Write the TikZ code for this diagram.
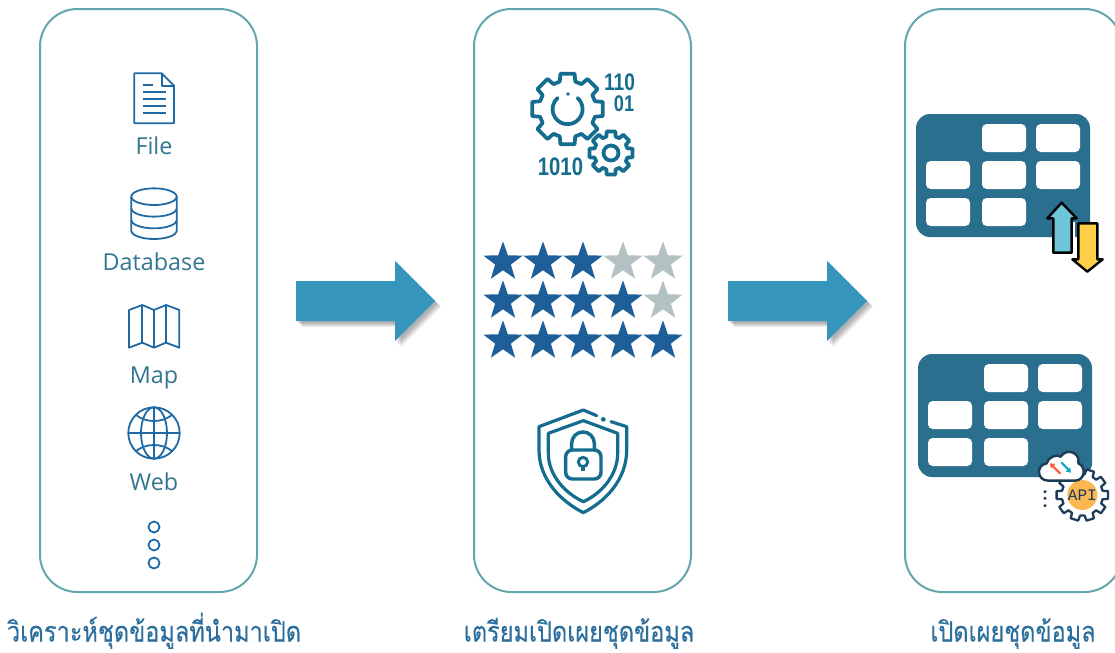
\documentclass[tikz,border=0pt]{standalone}
\usepackage{fontspec}
\setmainfont{Open Sans}
\newfontfamily\thaifont[Script=Thai,FakeStretch=0.84,FakeBold=0.25]{Loma}
\newfontfamily\binfont[FakeStretch=0.8]{Liberation Sans}
\newfontfamily\apifont{Liberation Mono}
\usetikzlibrary{shapes.geometric}
\definecolor{panelc}{HTML}{63A6AC}
\definecolor{iconc}{HTML}{2169A3}
\definecolor{labelc}{HTML}{33768F}
\definecolor{gearc}{HTML}{146C8E}
\definecolor{titlec}{HTML}{2C6E9C}
\definecolor{arrowc}{HTML}{3595BB}
\definecolor{tablec}{HTML}{2A6F8E}
\definecolor{stard}{HTML}{1F5F99}
\definecolor{starl}{HTML}{B3C1C3}
\definecolor{upc}{HTML}{6FC6DA}
\definecolor{downc}{HTML}{FFCF48}
\definecolor{apic}{HTML}{FBB850}
\definecolor{navyc}{HTML}{1C3C5A}
\tikzset{
  panel/.style={draw=panelc,line width=1.5pt,fill=white},
  icon/.style={draw=iconc,line width=1.35pt,line join=round},
  gearline/.style={draw=gearc,line width=2.8pt,line join=round,fill=white},
  lbl/.style={text=labelc,font=\fontsize{17.5}{20}\selectfont,inner sep=0pt,anchor=base},
  ttl/.style={text=titlec,font=\thaifont\fontsize{21}{24}\selectfont,inner sep=0pt,anchor=base},
  bin/.style={text=gearc,font=\binfont\bfseries,inner sep=0pt},
  starshape/.style={star,star points=5,star point ratio=2.5,minimum size=31pt,inner sep=0pt,draw=none},
  sd/.style={starshape,fill=stard},
  sl/.style={starshape,fill=starl},
  cell/.style={fill=white,rounded corners=3.5pt},
  blockarrow/.style={fill=arrowc,draw=none},
}
\newcommand{\blockarrowat}[2]{%
  \foreach \d in {2,3,4,5,6}{
    \fill[black,opacity=.07] ({#1+\d},{281+\d}) -- ({#2+\d},{281+\d}) -- ({#2+\d},{261+\d}) -- ({#2+40+\d},{301+\d}) -- ({#2+\d},{341+\d}) -- ({#2+\d},{321+\d}) -- ({#1+\d},{321+\d}) -- cycle;
  }
  \path[blockarrow] (#1,281) -- (#2,281) -- (#2,261) -- (#2+40,301) -- (#2,341) -- (#2,321) -- (#1,321) -- cycle;
}
\newcommand{\gearshape}[7]{%
  \path[#1] ({#2+#5*cos(0-#7*360/#6)},{#3-#5*sin(0-#7*360/#6)})
  \foreach \i in {1,...,#6}{
    -- ({#2+#4*cos((\i-1)*360/#6-#7*0.72*360/#6)},{#3-#4*sin((\i-1)*360/#6-#7*0.72*360/#6)})
    -- ({#2+#4*cos((\i-1)*360/#6+#7*0.72*360/#6)},{#3-#4*sin((\i-1)*360/#6+#7*0.72*360/#6)})
    -- ({#2+#5*cos((\i-1)*360/#6+#7*360/#6)},{#3-#5*sin((\i-1)*360/#6+#7*360/#6)})
    -- ({#2+#5*cos(\i*360/#6-#7*360/#6)},{#3-#5*sin(\i*360/#6-#7*360/#6)})
  } -- cycle;
}
\newcommand{\tablegrid}[2]{%
  \begin{scope}[shift={(#1,#2)}]
    \fill[tablec,rounded corners=10.5pt] (0,0) rectangle (174,123);
    \foreach \a/\b in {66/10,120/10,10/47,66/47,120/47,10/84,66/84}{
      \fill[cell] (\a,\b) rectangle ++(44,28);
    }
  \end{scope}
}
\begin{document}
\begin{tikzpicture}[x=0.75pt,y=-0.75pt]
\useasboundingbox (0,0) rectangle (1115,653);
\begin{scope}
\clip (0,0) rectangle (1115,653);
% panels
\draw[panel,rounded corners=28pt] (40,9) rectangle (257,592);
\draw[panel,rounded corners=28pt] (474,9) rectangle (691,592);
\draw[panel,rounded corners=28pt] (905,9) rectangle (1122,592);
% block arrows
\blockarrowat{296}{395}
\blockarrowat{728}{827}
% file icon
\begin{scope}[shift={(100,60)},x=0.25pt,y=-0.25pt]
  \path[icon] (103,40) -- (185,40) -- (222,77) -- (222,190) -- (103,190) -- cycle;
  \path[icon] (185,40) -- (185,77) -- (222,77);
  \path[icon] (130,75) -- (158,75);
  \foreach \yy in {97,117,137,158}{\path[icon] (130,\yy) -- (197,\yy);}
  % database icon
  \path[icon] (94,410) -- (94,512) arc[start angle=180,end angle=0,x radius=68,y radius=25] -- (230,410);
  \path[icon] (162,410) ellipse[x radius=68,y radius=25];
  \path[icon] (94,445) arc[start angle=180,end angle=0,x radius=68,y radius=25];
  \path[icon] (94,480) arc[start angle=180,end angle=0,x radius=68,y radius=25];
\end{scope}
\node[lbl] (file) at (154,154) {File};
\node[lbl] (db) at (154,270) {Database};
% map icon
\begin{scope}[shift={(100,290)},x=0.25pt,y=-0.25pt]
  \path[icon] (87,60) -- (127,45) -- (162,60) -- (198,45) -- (238,60) -- (238,173) -- (198,158) -- (162,173) -- (127,158) -- (87,173) -- cycle;
  \foreach \xx/\ya/\yb in {127/45/158,162/60/173,198/45/158}{\path[icon] (\xx,\ya) -- (\xx,\yb);}
\end{scope}
\node[lbl] (map) at (154,383) {Map};
% globe icon
\path[icon] (154,433) circle[radius=25.7];
\path[icon] (154,433) ellipse[x radius=13,y radius=25.7];
\path[icon] (154,407.3) -- (154,458.7);
\path[icon] (128.3,433) -- (179.7,433);
\path[icon] (136,415) .. controls (146,423) and (162,423) .. (172,415);
\path[icon] (136,451) .. controls (146,443) and (162,443) .. (172,451);
\node[lbl] (web) at (154,490) {Web};
\foreach \yy in {527,545,563}{\path[icon] (154,\yy) circle[radius=5.5];}
% gears
\gearshape{gearline}{567.5}{109}{36}{28.5}{8}{0.35}
\path[draw=gearc,line width=2.8pt,line cap=round] (577.6,98) arc[start angle=312,end angle=588,radius=15];
\fill[gearc] (568,94) circle[radius=1.8];
\gearshape{gearline}{611}{153}{22}{17}{8}{0.35}
\path[draw=gearc,line width=2.8pt] (611,153) circle[radius=7.5];
\node[bin,font=\binfont\bfseries\fontsize{18}{20}\selectfont] (b1) at (619.5,82) {110};
\node[bin,font=\binfont\bfseries\fontsize{17}{19}\selectfont] (b2) at (624,103.5) {01};
\node[bin,font=\binfont\bfseries\fontsize{19}{21}\selectfont] (b3) at (560.5,167) {1010};
% stars
\foreach \xx in {503,543,583}{\node[sd] at (\xx,262) {};}
\foreach \xx in {623,663}{\node[sl] at (\xx,262) {};}
\foreach \xx in {503,543,583,623}{\node[sd] at (\xx,301) {};}
\node[sl] at (663,301) {};
\foreach \xx in {503,543,583,623,663}{\node[sd] at (\xx,341) {};}
% shield
\begin{scope}[shift={(525,400)},x=0.25pt,y=-0.25pt]
  \path[draw=gearc,line width=2.4pt,line join=round,line cap=round] (258,65) -- (305,80) -- (305,150) .. controls (305,240) and (240,305) .. (175,338) .. controls (110,305) and (42,240) .. (42,150) -- (42,80) -- (175,30) -- (215,47);
  \fill[gearc] (235,58) circle[radius=7];
  \path[draw=gearc,line width=2.4pt,line join=round] (175,62) -- (278,100) -- (278,160) .. controls (278,225) and (230,280) .. (175,305) .. controls (120,280) and (70,225) .. (70,160) -- (70,100) -- cycle;
  \path[draw=gearc,line width=2.6pt,rounded corners=5pt] (122,150) rectangle (228,237);
  \path[draw=gearc,line width=2.6pt] (140,150) -- (140,130) arc[start angle=180,end angle=360,radius=34] -- (208,150);
  \path[draw=gearc,line width=2.2pt] (174,186) circle[radius=14];
  \path[draw=gearc,line width=2.4pt] (174,200) -- (174,214);
\end{scope}
% tables
\tablegrid{916}{114}
\tablegrid{918}{354}
% up / down arrows
\begin{scope}[shift={(1020,190)},x=0.25pt,y=-0.25pt]
  \path[draw=black,line width=1.8pt,fill=upc,line join=round] (125,38) -- (170,85) -- (155,85) -- (155,188) -- (100,188) -- (100,85) -- (82,85) -- cycle;
  \fill[white] (158,95) rectangle (164,190);
  \path[draw=black,line width=1.8pt,fill=downc,line join=round] (175,100) -- (232,100) -- (232,208) -- (248,208) -- (202,245) -- (157,208) -- (175,208) -- cycle;
\end{scope}
% API icon
\begin{scope}[shift={(1020,440)},x=0.25pt,y=-0.25pt]
  \gearshape{draw=navyc,line width=1.7pt,fill=white,line join=round}{187}{165}{78}{62}{10}{0.33}
  \fill[apic] (187,165) circle[radius=45];
  \node[text=navyc,font=\apifont\fontsize{12}{14}\selectfont,inner sep=0pt] (api) at (187,167) {API};
  \path[draw=navyc,line width=1.8pt,fill=white,line join=round] (85,122) .. controls (50,122) and (47,75) .. (80,70) .. controls (85,50) and (110,42) .. (122,50) .. controls (140,22) and (182,38) .. (175,70) .. controls (200,80) and (195,122) .. (165,122) -- cycle;
  \path[draw=red!65!orange!80,line width=1.6pt,line cap=round] (95,75) -- (120,100);
  \fill[red!65!orange!80] (90,70) -- (106,72) -- (93,85) -- cycle;
  \path[draw=iconc!60!cyan,line width=1.6pt,line cap=round] (125,68) -- (148,92);
  \fill[iconc!60!cyan] (153,98) -- (137,95) -- (150,82) -- cycle;
  \foreach \yy in {155,175,197}{\fill[navyc] (75,\yy) circle[radius=5];}
\end{scope}
% titles
\node[ttl] (t1) at (154,641.5) {วิเคราะห์ชุดข้อมูลที่นำมาเปิด};
\node[ttl] (t2) at (579,641.5) {เตรียมเปิดเผยชุดข้อมูล};
\node[ttl] (t3) at (1013,641.5) {เปิดเผยชุดข้อมูล};
\end{scope}
\end{tikzpicture}
\end{document}
